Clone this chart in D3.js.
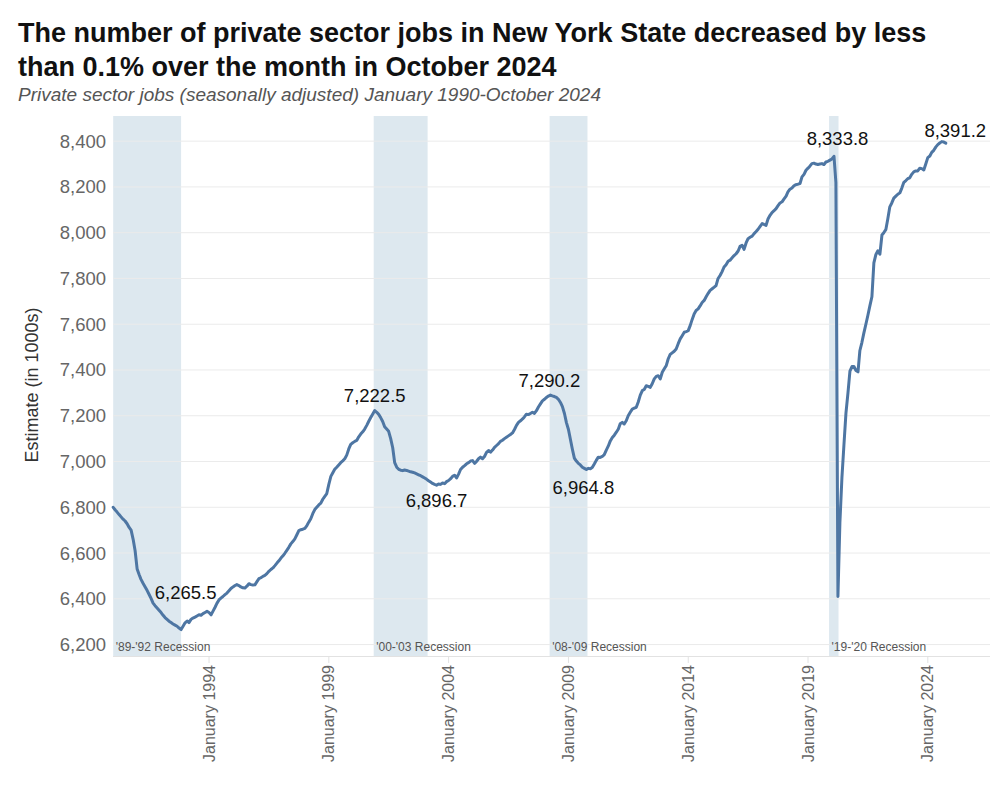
<!DOCTYPE html>
<html><head><meta charset="utf-8">
<script src="https://cdn.jsdelivr.net/npm/d3@7"></script>
<style>
body{margin:0;background:#fff;}
svg{display:block;font-family:"Liberation Sans",Arial,sans-serif;}
</style>
</head><body>
<svg id="chart" width="1000" height="800"></svg>
<script>
// ---------------- DATA ----------------
const titleLines = ["The number of private sector jobs in New York State decreased by less",
                    "than 0.1% over the month in October 2024"];
const subtitle = "Private sector jobs (seasonally adjusted) January 1990-October 2024";
const yAxisTitle = "Estimate (in 1000s)";
const startMonth = "1990-01";
// monthly private sector jobs (thousands), Jan 1990 - Oct 2024
const jobs = [
 6800,6788,6779,6768,6758,6748,6740,6728,6712,6700,6660,6610, // 1990
 6530,6505,6485,6468,6453,6437,6420,6402,6381,6370,6360,6350, // 1991
 6340,6328,6318,6310,6302,6296,6290,6285,6280,6272,6265.5,6280, // 1992
 6295,6303,6296,6310,6316,6320,6325,6330,6328,6335,6340,6345, // 1993
 6340,6330,6345,6362,6380,6395,6403,6410,6418,6425,6435,6445, // 1994
 6452,6458,6462,6458,6452,6448,6447,6455,6466,6462,6460,6461, // 1995
 6475,6488,6492,6498,6502,6510,6520,6528,6535,6545,6556,6566, // 1996
 6578,6588,6599,6612,6625,6640,6650,6662,6680,6698,6702,6704, // 1997
 6708,6720,6735,6750,6772,6790,6800,6810,6818,6835,6848,6860, // 1998
 6900,6935,6950,6966,6975,6985,6995,7003,7012,7028,7055,7075, // 1999
 7082,7088,7092,7108,7120,7130,7142,7158,7176,7192,7208,7222.5, // 2000
 7215,7205,7192,7175,7152,7142,7132,7100,7060,6995,6975,6966, // 2001
 6962,6960,6963,6961,6958,6955,6953,6950,6946,6942,6938,6933, // 2002
 6928,6922,6916,6910,6904,6900,6896.7,6902,6900,6906,6903,6912, // 2003
 6917,6925,6935,6940,6928,6945,6965,6975,6982,6990,6995,7002, // 2004
 7004,6992,7000,7012,7019,7012,7022,7040,7048,7041,7050,7062, // 2005
 7070,7078,7088,7093,7100,7106,7112,7118,7125,7140,7158,7171, // 2006
 7178,7186,7195,7207,7205,7210,7215,7210,7222,7238,7252,7265, // 2007
 7272,7280,7286,7290.2,7287,7284,7280,7272,7258,7240,7210,7170, // 2008
 7140,7095,7055,7015,7002,6992,6985,6975,6970,6964.8,6970,6968, // 2009
 6975,6990,7005,7019,7018,7022,7030,7050,7068,7090,7105,7115, // 2010
 7128,7142,7165,7171,7164,7178,7200,7215,7229,7233,7237,7260, // 2011
 7290,7310,7315,7331,7328,7324,7340,7361,7372,7375,7361,7390, // 2012
 7405,7420,7448,7468,7475,7482,7492,7515,7536,7550,7565,7568, // 2013
 7572,7595,7620,7645,7660,7667,7680,7695,7704,7720,7735,7748, // 2014
 7755,7762,7769,7800,7813,7830,7850,7860,7875,7880,7890,7900, // 2015
 7908,7920,7940,7945,7927,7955,7974,7980,7985,7996,8005,8015, // 2016
 8028,8040,8036,8032,8060,8076,8088,8096,8105,8118,8130,8135, // 2017
 8148,8160,8178,8190,8195,8205,8210,8212,8215,8244,8255,8273, // 2018
 8282,8292,8302,8304,8300,8298,8300,8302,8298,8309,8312,8317, // 2019
 8322,8333.8,8220,6410,6733,6930,7070,7210,7300,7395,7415,7415, // 2020
 7398,7392,7484,7520,7561,7600,7638,7680,7720,7868,7905,7921, // 2021
 7906,7990,8000,8013,8060,8113,8130,8151,8160,8168,8174,8195, // 2022
 8220,8228,8236,8240,8255,8266,8270,8270,8282,8280,8274,8300, // 2023
 8328,8335,8351,8360,8374,8385,8392,8398,8396,8391.2           // 2024
];
const yTicks = [6200,6400,6600,6800,7000,7200,7400,7600,7800,8000,8200,8400];
const xTickYears = [1994,1999,2004,2009,2014,2019,2024];
const recessionNames  = ["'89-'92 Recession","'00-'03 Recession","'08-'09 Recession","'19-'20 Recession"];
const recessionStarts = ["1990-01-01","2000-11-15","2008-03-20","2019-11-18"];
const recessionEnds   = ["1992-11-01","2003-02-15","2009-10-18","2020-04-10"];
const labelMonths = ["1992-11","2000-12","2003-07","2008-04","2009-10","2020-02","2024-10"];

// ---------------- LAYOUT ----------------
const svg = d3.select("#chart");
const plot = {left:113, right:990, top:116, bottom:656};
const parseMonth = d3.timeParse("%Y-%m");
const parseDay = d3.timeParse("%Y-%m-%d");
const t0 = parseMonth(startMonth);
const series = jobs.map((v,i)=>({date:d3.timeMonth.offset(t0,i), value:v}));

const x = d3.scaleTime()
  .domain([new Date(1990,0,1), new Date(2024,0,1)])
  .range([113.2, 927.8]);
const y = d3.scaleLinear().domain([6150, 8510]).range([plot.bottom, plot.top]);

// title
svg.selectAll("text.title").data(titleLines).join("text")
  .attr("class","title").attr("x",18).attr("y",(d,i)=>42+i*34)
  .attr("font-size",27).attr("font-weight","bold").attr("fill","#111").text(d=>d);
svg.append("text").attr("x",18).attr("y",101).attr("font-size",19)
  .attr("font-style","italic").attr("fill","#555").text(subtitle);

// recession bands
const bands = recessionNames.map((n,i)=>({name:n, s:parseDay(recessionStarts[i]), e:parseDay(recessionEnds[i])}));
svg.append("g").selectAll("rect").data(bands).join("rect")
  .attr("x",d=>Math.max(plot.left,x(d.s)))
  .attr("width",d=>x(d.e)-Math.max(plot.left,x(d.s)))
  .attr("y",plot.top).attr("height",plot.bottom-plot.top)
  .attr("fill","#dde8ef");

// gridlines
svg.append("g").selectAll("line").data(yTicks).join("line")
  .attr("x1",plot.left).attr("x2",plot.right)
  .attr("y1",d=>y(d)).attr("y2",d=>y(d))
  .attr("stroke","#ebebeb").attr("stroke-width",1);

// bottom axis line + ticks
svg.append("line").attr("x1",plot.left).attr("x2",plot.right)
  .attr("y1",plot.bottom+0.5).attr("y2",plot.bottom+0.5).attr("stroke","#e2e2e2");
const xTickDates = xTickYears.map(yr=>new Date(yr,0,1));
svg.append("g").selectAll("line").data(xTickDates).join("line")
  .attr("x1",d=>x(d)).attr("x2",d=>x(d))
  .attr("y1",plot.bottom).attr("y2",plot.bottom+7)
  .attr("stroke","#e2e2e2");

// recession labels
svg.append("g").selectAll("text").data(bands).join("text")
  .attr("x",d=>Math.max(plot.left,x(d.s))+2.5).attr("y",650.5)
  .attr("font-size",12).attr("fill","#555").text(d=>d.name);

// y tick labels
const fmt = d3.format(",");
svg.append("g").selectAll("text").data(yTicks).join("text")
  .attr("x",106).attr("y",d=>y(d)).attr("dy","0.35em")
  .attr("text-anchor","end").attr("font-size",18.5).attr("fill","#666")
  .text(d=>fmt(d));

// y title
svg.append("text").attr("transform","translate(32,385) rotate(-90)")
  .attr("dy","0.35em").attr("text-anchor","middle")
  .attr("font-size",18).attr("fill","#333").text(yAxisTitle);

// x tick labels
const fmtX = d3.timeFormat("%B %Y");
svg.append("g").selectAll("text").data(xTickDates).join("text")
  .attr("transform",d=>`translate(${x(d)},665) rotate(-90)`)
  .attr("dy","0.35em").attr("text-anchor","end")
  .attr("font-size",16).attr("fill","#666").text(d=>fmtX(d));

// line
const line = d3.line().x(d=>x(d.date)).y(d=>y(d.value));
svg.append("path").datum(series).attr("d",line)
  .attr("fill","none").attr("stroke","#4e76a3").attr("stroke-width",3)
  .attr("stroke-linejoin","round").attr("stroke-linecap","round");

// value labels
const labelOffsets = [[4.5,-31],[0,-9],[0,21.5],[-1,-8.5],[-3,24.5],[3.5,-11.5],[9.5,-6]];
const fmtV = d3.format(",.1f");
const labelData = labelMonths.map((m,i)=>{
  const d = parseMonth(m);
  const p = series.find(s=>+s.date===+d);
  return {p, off:labelOffsets[i]};
});
svg.append("g").selectAll("text").data(labelData).join("text")
  .attr("x",d=>x(d.p.date)+d.off[0]).attr("y",d=>y(d.p.value)+d.off[1])
  .attr("text-anchor","middle").attr("font-size",18.5).attr("fill","#111")
  .text(d=>fmtV(d.p.value));
</script>
</body></html>
